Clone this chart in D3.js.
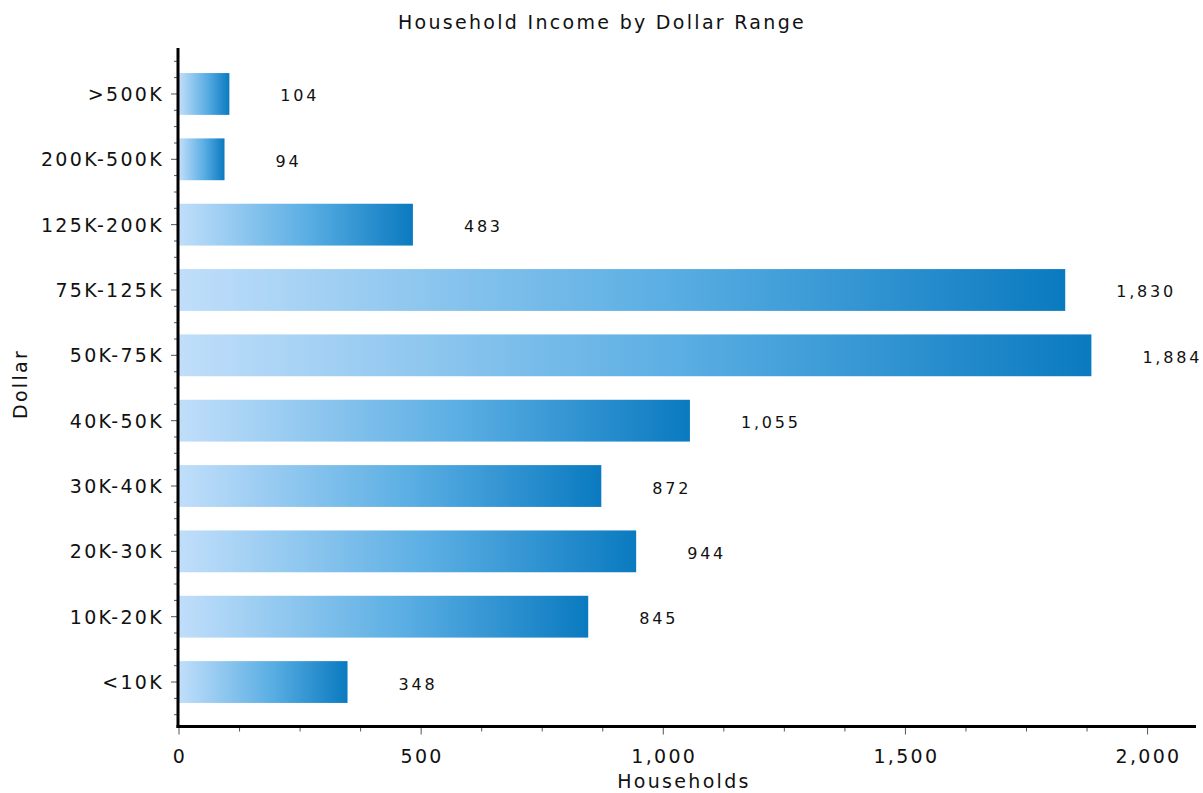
<!DOCTYPE html>
<html>
<head>
<meta charset="utf-8">
<script src="https://cdn.jsdelivr.net/npm/d3@7"></script>
<style>
  html, body { margin: 0; padding: 0; background: #fff; }
  svg { display: block; }
  .lbl { font-family: "DejaVu Sans", Verdana, sans-serif; fill: #111; font-size: 19px; letter-spacing: 2.3px; }
  .val { font-family: "DejaVu Sans", Verdana, sans-serif; fill: #111; font-size: 16px; letter-spacing: 2.8px; }
</style>
</head>
<body>
<svg id="chart" width="1203" height="793"></svg>
<script>
const categories = [">500K", "200K-500K", "125K-200K", "75K-125K", "50K-75K", "40K-50K", "30K-40K", "20K-30K", "10K-20K", "<10K"];
const households = [104, 94, 483, 1830, 1884, 1055, 872, 944, 845, 348];
const xMajorTicks = [0, 500, 1000, 1500, 2000];
const xMinorStep = 125;
const chartTitle = "Household Income by Dollar Range";
const xTitle = "Households";
const yTitle = "Dollar";

const svg = d3.select("#chart");

const x = d3.scaleLinear().domain([0, 2100]).range([179, 1196]);
const y = d3.scaleBand().domain(categories).range([61.3, 714.7]).paddingInner(0.36).paddingOuter(0.18);
const axisY = 726.5, axisX = 178;

// gradient
const defs = svg.append("defs");
const grad = defs.append("linearGradient").attr("id", "barGrad")
  .attr("x1", "0%").attr("x2", "100%").attr("y1", "0%").attr("y2", "0%");
grad.append("stop").attr("offset", "0%").attr("stop-color", "#c0defa");
grad.append("stop").attr("offset", "55%").attr("stop-color", "#5aaee3");
grad.append("stop").attr("offset", "100%").attr("stop-color", "#0a7ac0");

// title
svg.append("text").attr("class", "lbl")
  .attr("x", 602).attr("y", 29).attr("text-anchor", "middle")
  .text(chartTitle);

// bars
const data = categories.map((c, i) => ({ c, v: households[i] }));
svg.append("g").selectAll("rect").data(data).join("rect")
  .attr("x", x(0))
  .attr("y", d => y(d.c))
  .attr("width", d => x(d.v) - x(0))
  .attr("height", y.bandwidth())
  .attr("fill", "url(#barGrad)");

// value labels
svg.append("g").selectAll("text").data(data).join("text")
  .attr("class", "val")
  .attr("x", d => x(d.v) + 51)
  .attr("y", d => y(d.c) + y.bandwidth() / 2 + 7.5)
  .text(d => d3.format(",")(d.v));

// y axis minor ticks
const step = y.step();
const yTickPos = [];
categories.forEach(c => {
  const cy = y(c) + y.bandwidth() / 2;
  [-0.5, -0.25, 0.25, 0.5].forEach(k => yTickPos.push(cy + k * step));
});
const yMinor = Array.from(new Set(yTickPos.map(v => Math.round(v * 10) / 10)));
svg.append("g").selectAll("line").data(yMinor).join("line")
  .attr("x1", axisX - 4).attr("x2", axisX).attr("y1", d => d).attr("y2", d => d)
  .attr("stroke", "#555").attr("stroke-width", 1);

// y axis major ticks + labels
const yg = svg.append("g");
categories.forEach(c => {
  const cy = y(c) + y.bandwidth() / 2;
  yg.append("line").attr("x1", axisX - 7).attr("x2", axisX).attr("y1", cy).attr("y2", cy)
    .attr("stroke", "#555").attr("stroke-width", 1);
  yg.append("text").attr("class", "lbl")
    .attr("x", 164).attr("y", cy + 7).attr("text-anchor", "end")
    .text(c);
});

// x axis ticks
const xMinor = d3.range(0, 2100, xMinorStep).filter(v => !xMajorTicks.includes(v));
svg.append("g").selectAll("line").data(xMinor).join("line")
  .attr("x1", d => x(d)).attr("x2", d => x(d)).attr("y1", axisY).attr("y2", axisY + 5)
  .attr("stroke", "#555").attr("stroke-width", 1);
const xg = svg.append("g");
xMajorTicks.forEach(t => {
  xg.append("line").attr("x1", x(t)).attr("x2", x(t)).attr("y1", axisY).attr("y2", axisY + 8)
    .attr("stroke", "#555").attr("stroke-width", 1);
  xg.append("text").attr("class", "lbl")
    .attr("x", x(t) + 1).attr("y", 763).attr("text-anchor", "middle")
    .text(d3.format(",")(t));
});

// axis lines
svg.append("line").attr("x1", axisX).attr("x2", axisX).attr("y1", 48).attr("y2", axisY + 1.5)
  .attr("stroke", "#000").attr("stroke-width", 3);
svg.append("line").attr("x1", axisX - 1.5).attr("x2", 1196).attr("y1", axisY).attr("y2", axisY)
  .attr("stroke", "#000").attr("stroke-width", 3);

// axis titles
svg.append("text").attr("class", "lbl")
  .attr("x", 684).attr("y", 788).attr("text-anchor", "middle")
  .text(xTitle);
svg.append("text").attr("class", "lbl")
  .attr("transform", "translate(27,384) rotate(-90)").attr("text-anchor", "middle")
  .text(yTitle);
</script>
</body>
</html>
